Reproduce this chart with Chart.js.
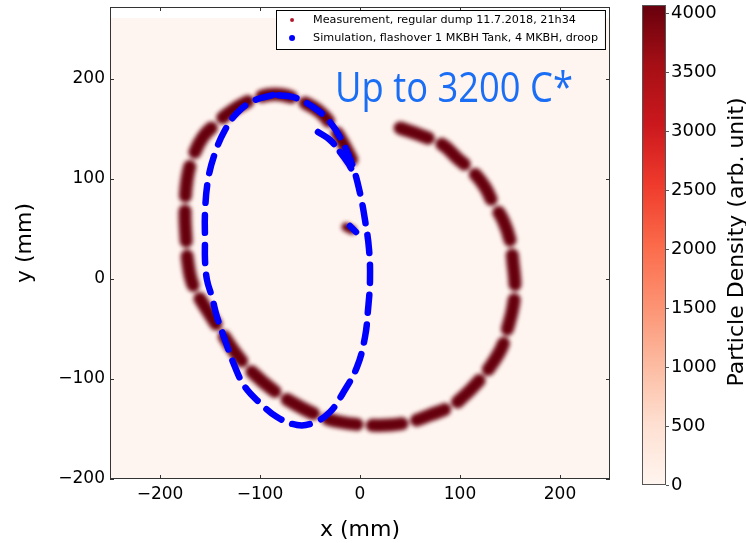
<!DOCTYPE html>
<html>
<head>
<meta charset="utf-8">
<script src="https://cdn.jsdelivr.net/npm/chart.js@4.4.1/dist/chart.umd.min.js"></script>
<style>
  html, body { margin: 0; padding: 0; background: #fff; }
  #wrap { position: relative; width: 746px; height: 543px; }
  #main { position: absolute; left: 0; top: 0; }
  #cbar { position: absolute; left: 600px; top: 0; }
</style>
</head>
<body>
<div id="wrap">
  <canvas id="main" width="746" height="543"></canvas>
  <canvas id="cbar" width="146" height="543"></canvas>
</div>
<script>
// tick values
const xTicks = [-200, -100, 0, 100, 200];
const yTicks = [-200, -100, 0, 100, 200];
const cbarTicks = [0, 500, 1000, 1500, 2000, 2500, 3000, 3500, 4000];
const cbarMax = 4070;

const measX = [40, 60, 83, 97, 113, 125, 133, 143, 150, 153, 155, 153, 148, 142, 130, 117, 103, 90, 70, 50,
               30, 7, -20, -43, -67, -87, -107, -123, -140, -153, -167, -172, -174, -175, -173, -167, -157, -143, -130, -113,
               -93, -77, -57, -40, -27, -17, -8];
const measY = [151, 144, 134, 121, 107, 92, 76, 59, 39, 16, -8, -28, -48, -68, -88, -104, -118, -128, -136, -143,
               -146, -146, -143, -136, -124, -111, -94, -76, -51, -31, -6, 16, 42, 66, 99, 122, 142, 156, 167, 177,
               184, 184, 177, 167, 152, 136, 119];
const blobX = [-14, -8];
const blobY = [52, 49];

// simulation (blue ellipse + inner arc)
const simX = [-87, -107, -123, -135, -145, -152, -155, -155, -155, -153, -148, -143, -135, -125, -115, -100, -83, -63, -47, -30,
              -17, -3, 5, 8, 10, 9, 5, 0, -7, -17, -30, -47, -67, -87];
const simY = [184, 178, 166, 149, 126, 99, 66, 39, 19, -1, -18, -38, -61, -88, -108, -124, -138, -146, -144, -133,
              -114, -88, -58, -31, -1, 30, 59, 86, 112, 136, 157, 172, 182, 184];
const arcX = [-42, -30, -20, -12, -8];
const arcY = [147, 139, 127, 116, 109];
const dotX = [-10, -4];
const dotY = [53, 47];

const reds = ['#fff5f0', '#fee0d2', '#fcbba1', '#fc9272', '#fb6a4a', '#ef3b2c', '#cb181d', '#a50f15', '#67000d'];

function pts(xs, ys) { return xs.map((x, i) => ({x: x, y: ys[i]})); }
function fmt(v) { return v < 0 ? '\u2212' + Math.abs(v) : String(v); }
function noPad(s) { s.paddingTop = 0; s.paddingBottom = 0; s.paddingLeft = 0; s.paddingRight = 0; }

const FONT = '"DejaVu Sans", sans-serif';

const simStyle = {
  showLine: true, pointRadius: 0, borderColor: '#0000ff', borderWidth: 6.5,
  borderDash: [18, 12], borderCapStyle: 'round', borderJoinStyle: 'round', tension: 0.4, order: 0
};
const measStyle = {
  showLine: true, pointRadius: 0, borderColor: '#67000d', borderWidth: 13,
  borderDash: [30, 15], borderCapStyle: 'round', borderJoinStyle: 'round', tension: 0.4, order: 1, blur: 2.2
};

// blur the measurement "heat map" strokes
const blurPlugin = {
  id: 'blur',
  beforeDatasetDraw(chart, args) {
    const ds = chart.data.datasets[args.index];
    if (ds.blur) { chart.ctx.save(); chart.ctx.filter = 'blur(' + ds.blur + 'px)'; }
  },
  afterDatasetDraw(chart, args) {
    if (chart.data.datasets[args.index].blur) chart.ctx.restore();
  }
};

const framePlugin = {
  id: 'frame',
  beforeDatasetsDraw(chart) {
    const {ctx, scales: {x, y}} = chart;
    const l = x.getPixelForValue(-250), r = x.getPixelForValue(250);
    const t = y.getPixelForValue(261), b = y.getPixelForValue(-200);
    ctx.save();
    ctx.fillStyle = reds[0];
    ctx.fillRect(l, t, r - l, b - t);
    ctx.restore();
  },
  afterDatasetsDraw(chart) {
    const {ctx, chartArea: a, scales: {x, y}} = chart;
    ctx.save();
    ctx.strokeStyle = '#333';
    ctx.lineWidth = 1;
    ctx.beginPath();
    xTicks.forEach(v => {
      const p = Math.round(x.getPixelForValue(v)) + 0.5;
      ctx.moveTo(p, a.bottom); ctx.lineTo(p, a.bottom - 4);
      ctx.moveTo(p, a.top); ctx.lineTo(p, a.top + 4);
    });
    yTicks.forEach(v => {
      const p = Math.round(y.getPixelForValue(v)) + 0.5;
      ctx.moveTo(a.left, p); ctx.lineTo(a.left + 4, p);
      ctx.moveTo(a.right, p); ctx.lineTo(a.right - 4, p);
    });
    ctx.stroke();
    ctx.strokeRect(a.left + 0.5, a.top + 0.5, a.width - 1, a.height - 1);
    ctx.restore();
  }
};

const legendPlugin = {
  id: 'boxLegend',
  afterDraw(chart) {
    const {ctx, chartArea: a, scales: {x, y}} = chart;
    const items = chart.data.datasets.filter(d => d.legendColor).sort((p, q) => p.legendPos - q.legendPos);
    ctx.save();
    ctx.font = '11.2px ' + FONT;
    const tw = Math.max(...items.map(d => ctx.measureText(d.label).width));
    const w = tw + 44, h = 39;
    const right = a.right - 5, top = a.top + 3, left = right - w;
    ctx.fillStyle = '#fff';
    ctx.fillRect(left, top, w, h);
    ctx.strokeStyle = '#000';
    ctx.lineWidth = 1;
    ctx.strokeRect(Math.round(left) + 0.5, top + 0.5, w, h);
    items.forEach((d, i) => {
      const cy = top + 10 + i * 18;
      ctx.fillStyle = d.legendColor;
      ctx.beginPath();
      ctx.arc(left + 16, cy, d.legendR, 0, Math.PI * 2);
      ctx.fill();
      ctx.fillStyle = '#000';
      ctx.textBaseline = 'middle';
      ctx.fillText(d.label, left + 37, cy);
    });

    // annotation
    const txt = 'Up to 3200 C*';
    ctx.font = '42px "Open Sans", sans-serif';
    const nat = ctx.measureText(txt).width;
    ctx.translate(x.getPixelForValue(-25), y.getPixelForValue(177));
    ctx.scale(238 / nat, 1);
    ctx.fillStyle = '#1a6ef5';
    ctx.textBaseline = 'alphabetic';
    ctx.fillText(txt, 0, 0);
    ctx.restore();
  }
};

new Chart(document.getElementById('main'), {
  type: 'scatter',
  data: {
    datasets: [
      Object.assign({label: 'Simulation, flashover 1 MKBH Tank, 4 MKBH, droop', data: pts(simX, simY),
        legendColor: '#0000ff', legendR: 3, legendPos: 1}, simStyle),
      Object.assign({label: 'sim-arc', data: pts(arcX, arcY)}, simStyle, {borderDash: [20, 10]}),
      Object.assign({label: 'sim-dot', data: pts(dotX, dotY)}, simStyle, {borderDash: []}),
      Object.assign({label: 'Measurement, regular dump 11.7.2018, 21h34', data: pts(measX, measY),
        legendColor: '#b2182b', legendR: 2, legendPos: 0}, measStyle),
      Object.assign({label: 'meas-blob', data: pts(blobX, blobY)}, measStyle, {borderDash: [], borderWidth: 9})
    ]
  },
  options: {
    responsive: false,
    animation: false,
    layout: { padding: { left: 0, top: 7, right: 136, bottom: 0 } },
    plugins: { legend: { display: false }, tooltip: { enabled: false } },
    scales: {
      x: {
        type: 'linear', min: -250, max: 250,
        afterBuildTicks: s => { s.ticks = xTicks.map(v => ({value: v})); },
        afterFit: s => { s.height = 64; noPad(s); },
        grid: { display: false, drawTicks: false },
        border: { display: false },
        ticks: { font: { family: FONT, size: 17 }, color: '#000', padding: 5, callback: v => fmt(v) },
        title: { display: true, text: 'x (mm)', font: { family: FONT, size: 22 }, color: '#000', padding: { top: 0, bottom: 0 } }
      },
      y: {
        type: 'linear', min: -200, max: 272,
        afterBuildTicks: s => { s.ticks = yTicks.map(v => ({value: v})); },
        afterFit: s => { s.width = 110; noPad(s); },
        grid: { display: false, drawTicks: false },
        border: { display: false },
        ticks: { font: { family: FONT, size: 17 }, color: '#000', padding: 5, callback: v => fmt(v) },
        title: { display: true, text: 'y (mm)', font: { family: FONT, size: 22 }, color: '#000', padding: { top: 12, bottom: 0 } }
      }
    }
  },
  plugins: [blurPlugin, framePlugin, legendPlugin]
});

// colour bar
const cbarPlugin = {
  id: 'cbarDeco',
  afterDraw(chart) {
    const {ctx, chartArea: a} = chart;
    ctx.save();
    ctx.strokeStyle = '#555';
    ctx.lineWidth = 1;
    ctx.strokeRect(a.left + 0.5, a.top + 0.5, a.width - 1, a.height - 1);
    ctx.font = '22px ' + FONT;
    ctx.fillStyle = '#000';
    ctx.textAlign = 'center';
    ctx.textBaseline = 'middle';
    ctx.translate(137, 242);
    ctx.rotate(-Math.PI / 2);
    ctx.fillText('Particle Density (arb. unit)', 0, 0);
    ctx.restore();
  }
};

new Chart(document.getElementById('cbar'), {
  type: 'bar',
  data: {
    labels: [''],
    datasets: [{
      data: [cbarMax],
      borderWidth: 0,
      barPercentage: 1,
      categoryPercentage: 1,
      backgroundColor: c => {
        const a = c.chart.chartArea;
        if (!a) return reds[4];
        const g = c.chart.ctx.createLinearGradient(0, a.bottom, 0, a.top);
        reds.forEach((col, i) => g.addColorStop(i / (reds.length - 1), col));
        return g;
      }
    }]
  },
  options: {
    responsive: false,
    animation: false,
    layout: { padding: { left: 42, top: 5, right: 0, bottom: 58 } },
    plugins: { legend: { display: false }, tooltip: { enabled: false } },
    scales: {
      x: { display: false },
      y: {
        position: 'right', min: 0, max: cbarMax,
        afterBuildTicks: s => { s.ticks = cbarTicks.map(v => ({value: v})); },
        afterFit: s => { s.width = 80; noPad(s); },
        grid: { drawOnChartArea: false, tickLength: 3, color: '#555' },
        border: { display: false },
        ticks: { font: { family: FONT, size: 18 }, color: '#000', padding: 2, callback: v => String(v) }
      }
    }
  },
  plugins: [cbarPlugin]
});
</script>
</body>
</html>
